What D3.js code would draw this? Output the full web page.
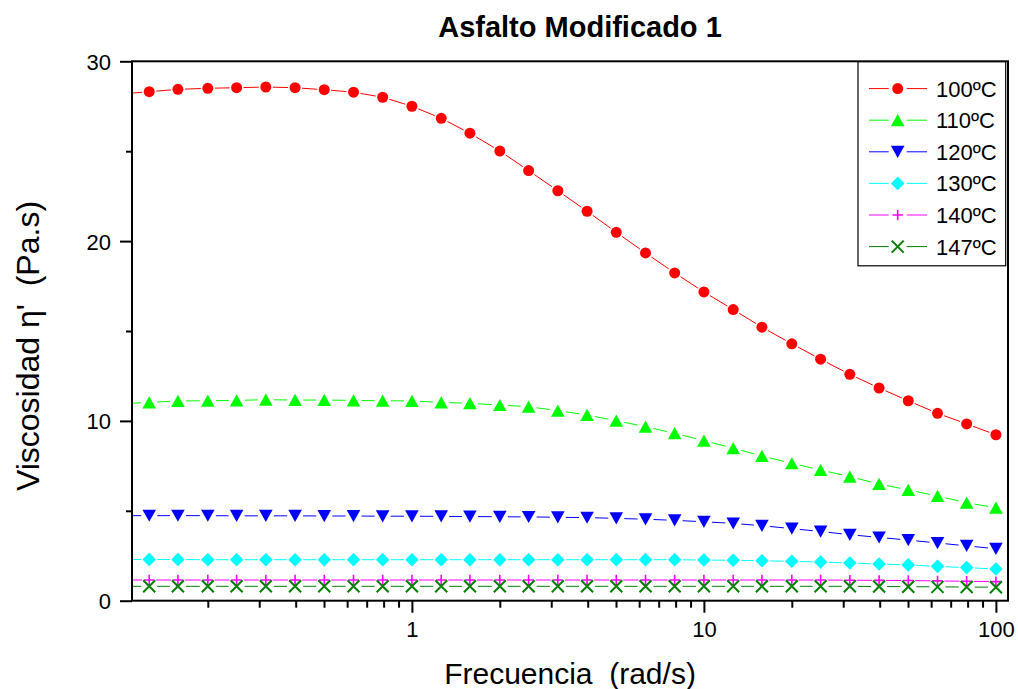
<!DOCTYPE html>
<html>
<head>
<meta charset="utf-8">
<script src="https://cdn.jsdelivr.net/npm/d3@7"></script>
<style>
  body { margin: 0; background: #fff; }
  svg { display: block; }
  text { font-family: "Liberation Sans", Arial, sans-serif; fill: #000; }
</style>
</head>
<body>
<svg id="chart" width="1018" height="689"></svg>
<script>
// Angular frequency (rad/s), 10 points per decade
const frequency = [0.126, 0.158, 0.2, 0.251, 0.316, 0.398, 0.501, 0.631, 0.794, 1,
                   1.26, 1.58, 2, 2.51, 3.16, 3.98, 5.01, 6.31, 7.94, 10,
                   12.6, 15.8, 20, 25.1, 31.6, 39.8, 50.1, 63.1, 79.4, 100];

// Dynamic viscosity η' (Pa.s) at each test temperature
const eta100 = [28.31, 28.44, 28.50, 28.53, 28.57, 28.53, 28.42, 28.28, 28.00, 27.50,
                26.83, 26.00, 25.01, 23.92, 22.80, 21.66, 20.49, 19.34, 18.23, 17.17,
                16.19, 15.21, 14.29, 13.43, 12.59, 11.83, 11.12, 10.42, 9.83, 9.23];
const eta110 = [11.03, 11.11, 11.12, 11.14, 11.18, 11.16, 11.16, 11.14, 11.12, 11.11,
                11.03, 10.98, 10.88, 10.79, 10.57, 10.33, 10.01, 9.68, 9.31, 8.90,
                8.48, 8.05, 7.64, 7.27, 6.90, 6.49, 6.16, 5.82, 5.45, 5.17];
const eta120 = [4.73, 4.73, 4.73, 4.72, 4.72, 4.72, 4.71, 4.71, 4.70, 4.70,
                4.69, 4.68, 4.67, 4.66, 4.64, 4.62, 4.58, 4.53, 4.47, 4.39,
                4.30, 4.17, 4.01, 3.85, 3.67, 3.52, 3.37, 3.21, 3.05, 2.89];
const eta130 = [2.29, 2.29, 2.28, 2.28, 2.28, 2.28, 2.28, 2.28, 2.28, 2.28,
                2.28, 2.28, 2.28, 2.28, 2.28, 2.28, 2.28, 2.28, 2.28, 2.26,
                2.25, 2.22, 2.19, 2.15, 2.10, 2.04, 1.99, 1.91, 1.84, 1.76];
const eta140 = [1.15, 1.15, 1.15, 1.15, 1.15, 1.15, 1.15, 1.15, 1.15, 1.15,
                1.15, 1.15, 1.15, 1.15, 1.15, 1.15, 1.15, 1.15, 1.15, 1.15,
                1.15, 1.15, 1.15, 1.15, 1.14, 1.13, 1.12, 1.10, 1.08, 1.06];
const eta147 = [0.80, 0.80, 0.80, 0.80, 0.80, 0.80, 0.80, 0.80, 0.80, 0.80,
                0.80, 0.80, 0.80, 0.80, 0.80, 0.80, 0.80, 0.80, 0.80, 0.80,
                0.80, 0.80, 0.80, 0.80, 0.80, 0.79, 0.78, 0.77, 0.76, 0.75];

const seriesLabels = ["100ºC", "110ºC", "120ºC", "130ºC", "140ºC", "147ºC"];
const seriesColors = ["#ff0000", "#00ff00", "#0000ff", "#00ffff", "#ff00ff", "#008000"];
const seriesSymbols = ["circle", "triangleUp", "triangleDown", "diamond", "plus", "cross"];

const xMajorTicks = [1, 10, 100];
const xMinorTicks = [0.2, 0.3, 0.4, 0.5, 0.6, 0.7, 0.8, 0.9,
                     2, 3, 4, 5, 6, 7, 8, 9,
                     20, 30, 40, 50, 60, 70, 80, 90];
const yMajorTicks = [0, 10, 20, 30];
const yMinorTicks = [5, 15, 25];

const chartTitle = "Asfalto Modificado 1";
const xTitle = "Frecuencia  (rad/s)";
const yTitle = "Viscosidad η'  (Pa.s)";

// ---- layout ----
const plot = { left: 132, right: 1008, top: 61.3, bottom: 600.7 };

const svg = d3.select("#chart");

const x = d3.scaleLog().domain([0.11, 110]).range([plot.left, plot.right]);
const y = d3.scaleLinear().domain([0, 30]).range([plot.bottom, plot.top]);

const series = [eta100, eta110, eta120, eta130, eta140, eta147].map((vals, i) => ({
  label: seriesLabels[i],
  color: seriesColors[i],
  symbol: seriesSymbols[i],
  points: frequency.map((f, j) => ({ f, v: vals[j] }))
}));

// ---- marker shapes ----
const symbolPath = {
  circle: null,
  triangleUp: "M0,-6.2L6.8,6L-6.8,6Z",
  triangleDown: "M0,6.2L6.8,-6L-6.8,-6Z",
  diamond: "M0,-6.8L6.8,0L0,6.8L-6.8,0Z",
  plus: "M-5.2,0H5.2M0,-5.2V5.2",
  cross: "M-6,-6L6,6M-6,6L6,-6"
};
const symbolGap = { circle: 7, triangleUp: 8, triangleDown: 8, diamond: 8, plus: 7, cross: 8 };

function drawSymbol(g, kind, color) {
  if (kind === "circle") {
    g.append("circle").attr("r", 5.5).attr("fill", color);
  } else if (kind === "plus" || kind === "cross") {
    g.append("path").attr("d", symbolPath[kind]).attr("fill", "none")
      .attr("stroke", color).attr("stroke-width", kind === "plus" ? 1.6 : 2);
  } else {
    g.append("path").attr("d", symbolPath[kind]).attr("fill", color);
  }
}

// ---- clip region ----
svg.append("defs").append("clipPath").attr("id", "plot-clip")
  .append("rect")
  .attr("x", plot.left).attr("y", plot.top)
  .attr("width", plot.right - plot.left).attr("height", plot.bottom - plot.top);

// ---- connecting lines (broken around each marker) ----
const lineLayer = svg.append("g").attr("clip-path", "url(#plot-clip)");

series.forEach(s => {
  const px = s.points.map(p => [x(p.f), y(p.v)]);
  // lead-in from the left edge of the frame, continuing the first segment
  const [x0, y0] = px[0], [x1, y1] = px[1];
  const xe = x.range()[0];
  const ye = y0 + (y1 - y0) * (xe - x0) / (x1 - x0);
  const gap = symbolGap[s.symbol];
  const segs = [];
  const pushSeg = (a, b, gapA, gapB) => {
    const dx = b[0] - a[0], dy = b[1] - a[1];
    const len = Math.hypot(dx, dy);
    if (len <= gapA + gapB) return;
    const ux = dx / len, uy = dy / len;
    segs.push([a[0] + ux * gapA, a[1] + uy * gapA, b[0] - ux * gapB, b[1] - uy * gapB]);
  };
  pushSeg([xe, ye], px[0], 0, gap);
  for (let k = 0; k < px.length - 1; k++) pushSeg(px[k], px[k + 1], gap, gap);

  lineLayer.append("g").selectAll("line").data(segs).join("line")
    .attr("x1", d => d[0]).attr("y1", d => d[1])
    .attr("x2", d => d[2]).attr("y2", d => d[3])
    .attr("stroke", s.color).attr("stroke-width", 1);
});

// ---- markers ----
series.forEach(s => {
  const g = svg.append("g");
  s.points.forEach(p => {
    const m = g.append("g").attr("transform", `translate(${x(p.f)},${y(p.v)})`);
    drawSymbol(m, s.symbol, s.color);
  });
});

// ---- axes ----
const axisStroke = 2;

const xAxisMajor = d3.axisBottom(x).tickValues(xMajorTicks).tickSize(12).tickSizeOuter(0)
  .tickPadding(9).tickFormat(d3.format("d"));
const xAxisMinor = d3.axisBottom(x).tickValues(xMinorTicks).tickSize(7).tickSizeOuter(0)
  .tickFormat("");
const yAxisMajor = d3.axisLeft(y).tickValues(yMajorTicks).tickSize(12).tickSizeOuter(0)
  .tickPadding(9).tickFormat(d3.format("d"));
const yAxisMinor = d3.axisLeft(y).tickValues(yMinorTicks).tickSize(6).tickSizeOuter(0)
  .tickFormat("");

function styleAxis(g) {
  g.selectAll("path.domain").remove();
  g.selectAll(".tick line").attr("stroke", "#000").attr("stroke-width", axisStroke);
  g.selectAll(".tick text").attr("font-size", 22)
    .style("font-family", '"Liberation Sans", Arial, sans-serif').attr("fill", "#000");
}

svg.append("g").attr("transform", `translate(0,${plot.bottom})`).call(xAxisMinor).call(styleAxis);
svg.append("g").attr("transform", `translate(0,${plot.bottom})`).call(xAxisMajor).call(styleAxis)
  .selectAll(".tick text").attr("dy", "0.71em");
svg.append("g").attr("transform", `translate(${plot.left},0)`).call(yAxisMinor).call(styleAxis);
svg.append("g").attr("transform", `translate(${plot.left},0)`).call(yAxisMajor).call(styleAxis)
  .selectAll(".tick text").attr("dy", "0.36em");

// frame
svg.append("rect")
  .attr("x", plot.left).attr("y", plot.top)
  .attr("width", plot.right - plot.left).attr("height", plot.bottom - plot.top)
  .attr("fill", "none").attr("stroke", "#000").attr("stroke-width", axisStroke);

// ---- legend ----
const legend = { x: 858, y: 61.8, w: 147.7, h: 204, row0: 88.6, rowStep: 31.6 };
const lg = svg.append("g");
lg.append("rect")
  .attr("x", legend.x).attr("y", legend.y).attr("width", legend.w).attr("height", legend.h)
  .attr("fill", "#fff").attr("stroke", "#000").attr("stroke-width", 1.2);

series.forEach((s, i) => {
  const ry = legend.row0 + i * legend.rowStep;
  const row = lg.append("g").attr("transform", `translate(0,${ry})`);
  const cx = 897.7;
  row.append("line").attr("x1", 869).attr("x2", cx - 9).attr("y1", 0).attr("y2", 0)
    .attr("stroke", s.color).attr("stroke-width", 1);
  row.append("line").attr("x1", cx + 9).attr("x2", 927).attr("y1", 0).attr("y2", 0)
    .attr("stroke", s.color).attr("stroke-width", 1);
  drawSymbol(row.append("g").attr("transform", `translate(${cx},0)`), s.symbol, s.color);
  row.append("text").attr("x", 936).attr("y", 0).attr("dy", "0.36em")
    .attr("font-size", 22).text(s.label);
});

// ---- titles ----
svg.append("text")
  .attr("x", 580).attr("y", 36.7)
  .attr("text-anchor", "middle").attr("font-size", 29).attr("font-weight", "bold")
  .text(chartTitle);

svg.append("text")
  .attr("x", (plot.left + plot.right) / 2).attr("y", 684)
  .attr("text-anchor", "middle").attr("font-size", 30)
  .attr("xml:space", "preserve").style("white-space", "pre")
  .text(xTitle);

svg.append("text")
  .attr("transform", "translate(39,346) rotate(-90)")
  .attr("text-anchor", "middle").attr("font-size", 32)
  .attr("xml:space", "preserve").style("white-space", "pre")
  .text(yTitle);
</script>
</body>
</html>
